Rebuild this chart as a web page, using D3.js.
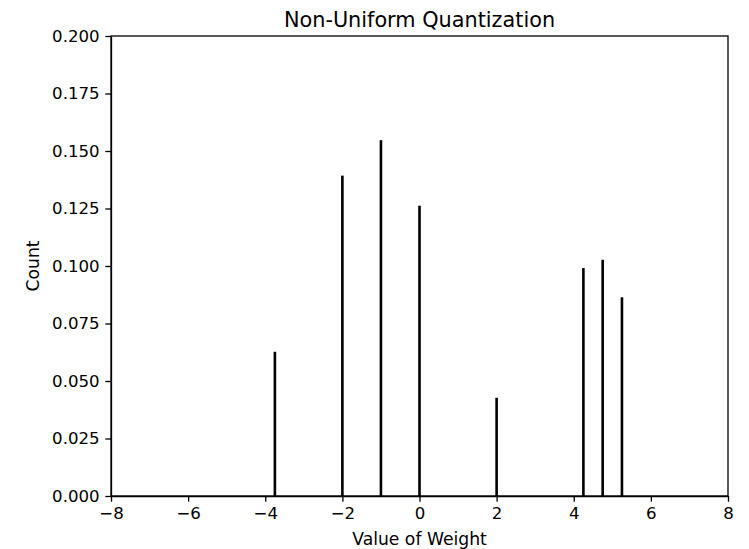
<!DOCTYPE html>
<html>
<head>
<meta charset="utf-8">
<script src="https://cdn.jsdelivr.net/npm/d3@7"></script>
<style>
  body { margin: 0; background: #fff; }
  text { font-family: "DejaVu Sans", sans-serif; fill: #000; }
  .axis path, .axis line { stroke: #000; stroke-width: 1.3; }
  .axis text { font-size: 16.6px; }
</style>
</head>
<body>
<div id="chart"></div>
<script>
// weights and their (normalised) counts
let weightValues = [-3.75, -2, -1, 0, 2, 4.25, 4.75, 5.25];
let countValues = [0.0627, 0.1393, 0.1547, 0.1262, 0.0427, 0.0991, 0.1027, 0.0864];
let xTicks = [-8, -6, -4, -2, 0, 2, 4, 6, 8];
let yTicks = [0, 0.025, 0.05, 0.075, 0.1, 0.125, 0.15, 0.175, 0.2];

let width = 749;
let height = 549;
let margin = {left: 111, right: 21, top: 36, bottom: 53};
let barWidth = 2.6;

let svg = d3.select("#chart")
    .append("svg")
    .attr("width", width)
    .attr("height", height);

let xScale = d3.scaleLinear()
    .domain([-8, 8])
    .range([margin.left, width - margin.right]);

let yScale = d3.scaleLinear()
    .domain([0, 0.2])
    .range([height - margin.bottom, margin.top]);

// bars
svg.append("g")
    .selectAll("rect")
    .data(weightValues)
    .join("rect")
    .attr("x", d => xScale(d) - barWidth / 2)
    .attr("width", barWidth)
    .attr("y", (d, i) => yScale(countValues[i]))
    .attr("height", (d, i) => yScale(0) - yScale(countValues[i]))
    .attr("fill", "#000");

// x axis
svg.append("g")
    .attr("class", "axis")
    .attr("transform", "translate(0, " + yScale(0) + ")")
    .call(d3.axisBottom(xScale)
        .tickValues(xTicks)
        .tickFormat(d3.format("d"))
        .tickSize(5.7)
        .tickPadding(5.7)
        .tickSizeOuter(0));

// y axis
svg.append("g")
    .attr("class", "axis")
    .attr("transform", "translate(" + xScale(-8) + ", 0)")
    .call(d3.axisLeft(yScale)
        .tickValues(yTicks)
        .tickFormat(d3.format(".3f"))
        .tickSize(5.7)
        .tickPadding(5.7)
        .tickSizeOuter(0));

// frame (top and right spines)
svg.append("rect")
    .attr("x", xScale(-8))
    .attr("y", yScale(0.2))
    .attr("width", xScale(8) - xScale(-8))
    .attr("height", yScale(0) - yScale(0.2))
    .attr("fill", "none")
    .attr("stroke", "#000")
    .attr("stroke-width", 1.3);

// title
svg.append("text")
    .attr("x", (xScale(-8) + xScale(8)) / 2)
    .attr("y", 27)
    .attr("text-anchor", "middle")
    .style("font-size", "20.8px")
    .text("Non-Uniform Quantization");

// x label
svg.append("text")
    .attr("x", (xScale(-8) + xScale(8)) / 2)
    .attr("y", 545)
    .attr("text-anchor", "middle")
    .style("font-size", "17.2px")
    .text("Value of Weight");

// y label
svg.append("text")
    .attr("text-anchor", "middle")
    .attr("transform", "translate(39, " + (yScale(0) + yScale(0.2)) / 2 + ") rotate(-90)")
    .style("font-size", "17.2px")
    .text("Count");
</script>
</body>
</html>
